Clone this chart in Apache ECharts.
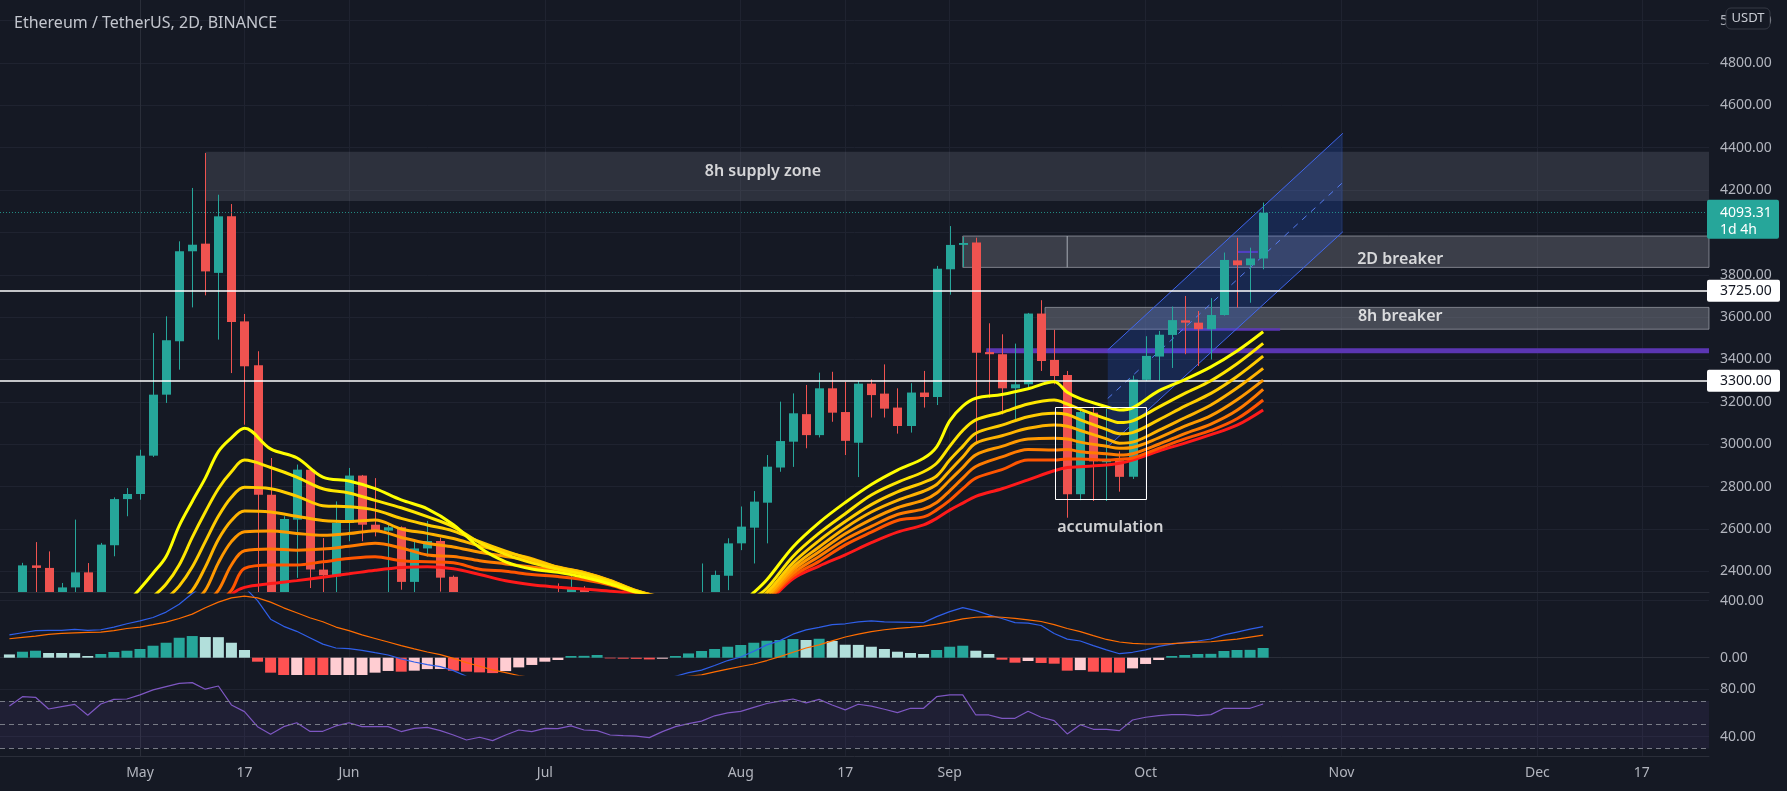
<!DOCTYPE html>
<html><head><meta charset="utf-8">
<script src="https://cdn.jsdelivr.net/npm/echarts/dist/echarts.min.js"></script>
<style>html,body{margin:0;padding:0;background:#151924;}#c{width:1787px;height:791px;}</style>
</head><body><div id="c"></div>
<script>
// ---------------- DATA ----------------
const firstIndex = -10;            // bar index of first candle (0 = 1 May, 2-day bars)
const candles = [ // [open, close, low, high]
[2080,2135,2070,2200],[2140,2428,2120,2440],[2428,2416,2280,2538],[2416,2235,2000,2494],[2235,2324,2160,2345],
[2324,2395,2300,2644],[2395,2215,2120,2439],[2215,2526,2180,2534],[2523,2741,2471,2749],[2741,2765,2660,2793],
[2765,2946,2738,2974],[2946,3234,2940,3525],[3234,3491,3195,3604],[3486,3911,3352,3958],[3911,3942,3646,4210],
[3947,3816,3703,4375],[3809,4076,3494,4178],[4076,3577,3336,4134],[3580,3368,3092,3615],[3373,2762,1900,3439],
[2762,2290,2110,2935],[2290,2647,1730,2660],[2644,2880,2369,2904],[2880,2408,2321,2888],[2408,2381,2170,2557],
[2376,2628,2280,2730],[2628,2852,2542,2888],[2852,2620,2542,2855],[2620,2592,2565,2840],[2592,2608,2290,2620],
[2608,2350,2313,2612],[2350,2508,2290,2551],[2508,2543,2469,2638],[2543,2370,2304,2558],[2374,2180,2100,2380],
[2180,1890,1860,2280],[1890,1970,1700,2050],[1970,1830,1800,2040],[1830,1970,1720,1990],[1970,2160,1960,2200],
[2160,2110,2030,2280],[2110,2225,2050,2240],[2225,2200,2160,2343],[2200,2319,2180,2409],[2319,2150,2100,2330],
[2150,2140,2050,2200],[2140,1995,1950,2200],[1995,1915,1880,2030],[1915,1900,1850,1960],[1900,1815,1790,1990],
[1815,1995,1720,2040],[1995,2125,1960,2140],[2125,2190,2100,2230],[2190,2300,2150,2437],[2300,2383,2220,2403],
[2379,2532,2311,2556],[2532,2611,2500,2706],[2606,2729,2437,2779],[2724,2894,2532,2949],[2890,3015,2870,3201],
[3012,3146,2893,3240],[3142,3043,2981,3280],[3043,3264,3032,3338],[3264,3149,3106,3342],[3152,3016,2949,3295],
[3007,3286,2845,3298],[3286,3232,3126,3306],[3239,3168,3126,3377],[3173,3086,3050,3264],[3086,3244,3055,3288],
[3244,3223,3173,3346],[3223,3829,3185,3842],[3826,3941,3706,4030],[3941,3950,3837,3979],[3952,3432,3000,3975],
[3435,3425,3220,3571],[3425,3264,3141,3519],[3264,3283,3115,3475],[3283,3617,3267,3620],[3617,3393,3346,3680],
[3398,3322,3283,3540],[3327,2764,2653,3346],[2764,3152,2736,3173],[3149,2919,2732,3177],[2915,2926,2732,3167],
[2924,2846,2776,2966],[2846,3306,2836,3324],[3304,3417,3298,3510],[3414,3517,3299,3535],[3516,3586,3360,3650],
[3585,3574,3425,3700],[3574,3543,3369,3629],[3543,3610,3400,3690],[3610,3870,3607,3905],[3868,3845,3645,3975],
[3845,3877,3668,3928],[3877,4093.31,3826,4141]
];

// moving-average ribbon at these bar indices
const ribbonX = [-2,0,1,2,3,4,5,6,7,8,10,12,14,16,18,20,22,24,26,28,30,32,34,36,38,40,42,44,
                 46,47,48,50,52,54,56,58,60,61,62,63,64,66,68,70,71,72,74,75,76,78,80,82,84,86];
const ema1 = [2180,2318,2391,2470,2615,2730,2840,2965,3030,3075,2978,2936,2845,2826,2790,2737,2695,2620,2512,2445,2411,2395,2372,2340,2300,2262,2235,2245,
              2250,2300,2360,2515,2630,2725,2810,2878,2934,2988,3110,3180,3217,3235,3262,3295,3245,3215,3177,3162,3172,3252,3305,3365,3440,3531];
const ema2 = [2120,2230,2280,2340,2430,2560,2680,2790,2870,2925,2890,2845,2790,2770,2735,2700,2658,2610,2535,2480,2440,2410,2385,2350,2305,2270,2245,2245,
              2240,2275,2320,2470,2580,2672,2760,2820,2870,2910,2990,3065,3115,3150,3190,3209,3190,3165,3120,3102,3110,3175,3240,3300,3380,3476];
const ema3 = [2080,2180,2220,2270,2330,2420,2540,2660,2750,2797,2790,2755,2710,2705,2689,2650,2619,2590,2540,2495,2455,2418,2392,2355,2308,2275,2252,2248,
              2235,2262,2300,2440,2545,2635,2715,2775,2820,2850,2925,2990,3052,3090,3130,3146,3140,3115,3070,3049,3055,3115,3180,3240,3320,3416];
const ema4 = [2050,2140,2170,2210,2260,2310,2420,2550,2640,2685,2680,2660,2640,2635,2642,2600,2579,2555,2520,2490,2460,2420,2395,2357,2308,2278,2256,2250,
              2230,2255,2285,2420,2515,2605,2680,2735,2778,2810,2875,2940,3005,3040,3075,3091,3085,3065,3025,3005,3010,3065,3125,3185,3265,3358];
const ema5 = [2020,2100,2130,2160,2200,2250,2310,2440,2540,2587,2590,2579,2570,2578,2592,2560,2532,2515,2490,2470,2450,2418,2393,2355,2306,2278,2258,2250,
              2225,2245,2275,2405,2492,2577,2645,2700,2736,2770,2830,2890,2950,2990,3025,3028,3025,3010,2990,2981,2985,3030,3085,3135,3210,3303];
const ema6 = [2000,2070,2100,2120,2160,2200,2250,2310,2430,2497,2505,2500,2505,2518,2532,2510,2477,2470,2450,2435,2420,2405,2385,2350,2302,2276,2258,2248,
              2220,2238,2265,2390,2470,2550,2612,2668,2695,2725,2780,2840,2895,2940,2975,2973,2975,2965,2955,2949,2955,3000,3050,3095,3160,3259];
const ema7 = [1980,2050,2070,2090,2120,2160,2200,2250,2310,2414,2430,2430,2445,2460,2469,2450,2445,2440,2410,2400,2385,2375,2360,2335,2298,2272,2256,2246,
              2210,2230,2260,2377,2447,2525,2585,2640,2657,2690,2735,2790,2840,2880,2925,2925,2930,2930,2925,2929,2935,2980,3025,3065,3120,3209];
const ema8 = [1960,2020,2040,2060,2090,2120,2160,2210,2290,2324,2342,2356,2372,2388,2405,2418,2422,2412,2385,2355,2336,2325,2316,2306,2292,2270,2252,2240,
              2200,2215,2250,2365,2425,2478,2535,2585,2619,2650,2689,2722,2754,2790,2832,2875,2890,2894,2902,2910,2925,2968,3005,3045,3090,3162];

const macdHist = [23,42,49,33,33,32,12,26,40,49,61,84,105,140,152,145,144,105,54,-28,-105,-135,-128,-150,-165,-150,-140,-130,-105,-93,
  -98,-91,-80,-79,-91,-98,-103,-108,-94,-68,-51,-28,-16,12,13,19,-5,-7,-8,-12,-7,12,30,47,61,77,89,105,119,124,
  131,124,133,117,91,90,77,61,42,33,26,54,77,84,49,26,-14,-35,-23,-37,-42,-91,-87,-98,-103,-105,-75,-44,-16,12,
  19,26,27,47,54,55,68];
const macdLine = [160,175,190,192,192,199,192,196,215,238,258,282,320,375,451,510,545,535,495,400,270,220,185,140,95,68,63,52,35,19,
  -8,-30,-48,-63,-91,-130,-160,-180,-190,-190,-185,-180,-175,-170,-165,-165,-170,-175,-175,-170,-155,-130,-105,-87,-55,-20,5,45,90,120,
  165,195,213,232,238,252,258,252,250,248,246,288,323,351,330,300,275,246,243,226,170,130,117,85,55,28,38,55,80,95,
  107,117,131,160,180,200,218];
const macdSignal = [133,143,152,164,170,174,177,180,190,205,215,232,250,275,306,350,390,420,432,420,390,350,315,280,252,215,190,160,135,110,
  85,62,40,22,-5,-35,-60,-85,-105,-125,-140,-150,-158,-162,-165,-167,-168,-168,-166,-160,-152,-140,-130,-120,-100,-80,-62,-44,-20,8,
  38,68,90,118,145,165,183,196,206,213,222,235,253,272,284,288,284,276,265,254,232,205,183,155,128,110,100,96,96,99,
  104,109,112,122,130,145,159];
const rsiValues = [65.7,73.5,73.0,63.2,65.2,67.1,58.0,67.4,71.3,71.6,75.0,79.2,82.0,84.7,85.3,79.8,82.5,66.6,61.0,48.4,
  42.0,48.4,51.7,44.5,44.5,49.0,51.7,48.4,48.4,48.4,44.3,47.0,47.8,45.1,41.4,37.2,39.5,36.7,41.4,45.6,
  44.3,47.0,46.7,49.0,45.6,45.1,41.4,40.8,40.5,39.2,44.2,48.4,51.0,53.0,57.5,60.0,61.2,64.5,67.8,69.8,
  71.6,68.3,71.3,66.6,62.5,67.2,65.6,63.0,60.2,63.8,63.8,73.5,75.0,75.0,58.2,58.2,55.4,55.4,61.3,56.3,
  53.4,42.3,50.0,46.2,46.2,45.1,54.0,56.3,57.6,58.5,58.5,57.6,58.5,63.8,63.8,63.8,67.4];

const timeTicks  = [0, 8, 16, 31, 46, 54, 62, 77, 92, 107, 115];
const timeLabels = ['May','17','Jun','Jul','Aug','17','Sep','Oct','Nov','Dec','17'];
const priceTicks = [2400,2600,2800,3000,3200,3400,3600,3800,4000,4200,4400,4600,4800,5000];
const macdTicks = [0, 400];
const rsiTicks = [40, 80];
const rsiBands = [30, 50, 70];

const levelLines = [3725, 3300];
const lastPrice = 4093.31;
const countdown = '1d 4h';

// zones: [fromBar, toBar, lowPrice, highPrice, kind]
const X_MIN = -10.72, X_MAX = 120.14;
const zones = [
  [5, X_MAX, 4148, 4381, 0],
  [63, 71, 3835, 3983, 1],
  [71, X_MAX, 3835, 3983, 1],
  [69.3, X_MAX, 3543, 3646, 2],
  [64.8, X_MAX, 3430, 3453, 3],
  [79.6, 87.3, 3536, 3548, 3],
  [84, 85.6, 3903, 3913, 3]
];
const accumulationBox = [70.1, 77.1, 2740, 3174];
const channelX = [74.1, 92.1];
const channelUpper = [3445, 4468];
const channelLower = [2988, 4003];
const channelMid = [3216, 4236];

const annotTexts = ['8h supply zone', '2D breaker', '8h breaker', 'accumulation'];
const annotX = [47.7, 96.5, 96.5, 74.3];
const annotY = [4287, 3873, 3605, 2608];

// ---------------- STYLE ----------------
const BG = '#151924', GRIDC = '#1f2330', TXT = '#b2b5be', SEP = '#2a2e39';
const FONT = '"Noto Sans", "Open Sans", sans-serif';
const UP = '#26a69a', DOWN = '#ef5350';
const ribbonColors = ['#ffff00','#ffe600','#ffcc00','#ffb300','#ff9900','#ff7b00','#ff5500','#ff1a1a'];
const zoneStyles = [
  {fill: 'rgba(120,123,134,0.25)', stroke: null},
  {fill: 'rgba(120,123,134,0.38)', stroke: 'rgba(178,181,190,0.6)'},
  {fill: 'rgba(120,123,134,0.5)', stroke: 'rgba(178,181,190,0.6)'},
  {fill: '#5b36b3', stroke: null}
];

const chart = echarts.init(document.getElementById('c'), null, {renderer: 'canvas'});
const grids = [
  {left: 0, right: 78, top: 0, height: 592},
  {left: 0, right: 78, top: 592, height: 83},
  {left: 0, right: 78, top: 675, height: 81}
];
function xAx(k) {
  return {
    type: 'value', gridIndex: k, min: X_MIN, max: X_MAX,
    axisLine: {show: true, lineStyle: {color: SEP, width: 1}},
    axisTick: {show: false, customValues: timeTicks},
    axisLabel: {show: k === 2, customValues: timeTicks, color: TXT, fontSize: 14, fontFamily: FONT, margin: 10,
      formatter: v => { const j = timeTicks.indexOf(v); return j >= 0 ? timeLabels[j] : ''; }},
    splitLine: {show: true, lineStyle: {color: GRIDC, width: 1}}
  };
}
function yAx(k, min, max, ticks) {
  return {
    type: 'value', gridIndex: k, position: 'right', min: min, max: max,
    axisLine: {show: true, lineStyle: {color: SEP, width: 1}},
    axisTick: {show: false, customValues: ticks},
    axisLabel: {customValues: ticks, color: TXT, fontSize: 14, fontFamily: FONT, margin: 11, formatter: v => v.toFixed(2)},
    splitLine: {show: true, lineStyle: {color: GRIDC, width: 1}}
  };
}
function histColor(k) {
  const h = macdHist[k], prev = k > 0 ? macdHist[k - 1] : h;
  if (h >= 0) return prev < h ? '#26a69a' : '#b2dfdb';
  return prev < h ? '#ffcdd2' : '#ff5252';
}
const ribbons = [ema1, ema2, ema3, ema4, ema5, ema6, ema7, ema8];
const ribbonSeries = ribbons.map((arr, j) => ({
  type: 'line', xAxisIndex: 0, yAxisIndex: 0, z: 5 + (7 - j) * 0.01,
  data: arr.map((v, n) => [ribbonX[n], v]), showSymbol: false, smooth: 0.35, clip: true,
  lineStyle: {color: ribbonColors[j], width: 3}, silent: true
})).reverse();

// candles drawn through the cartesian scale and clipped to the price pane
function renderCandle(params, api) {
  const cs = params.coordSys;
  const x = api.value(0), o = api.value(1), c = api.value(2), l = api.value(3), h = api.value(4);
  const po = api.coord([x, o]), pc = api.coord([x, c]), pl = api.coord([x, l]), ph = api.coord([x, h]);
  const color = c >= o ? UP : DOWN;
  const top = cs.y, bot = cs.y + cs.height;
  const cx = Math.round(po[0]) + 0.5;
  const children = [];
  const wy1 = Math.max(ph[1], top), wy2 = Math.min(pl[1], bot);
  if (wy2 > wy1) children.push({type: 'line', shape: {x1: cx, y1: wy1, x2: cx, y2: wy2}, style: {stroke: color, lineWidth: 1}});
  const yTop = Math.min(po[1], pc[1]);
  const hgt = Math.max(1, Math.abs(po[1] - pc[1]));
  const r = echarts.graphic.clipRectByRect({x: Math.round(po[0]) - 4, y: yTop, width: 9, height: hgt},
    {x: cs.x, y: cs.y, width: cs.width, height: cs.height});
  if (r) children.push({type: 'rect', shape: r, style: {fill: color}});
  return {type: 'group', children: children};
}

const option = {
  backgroundColor: BG, animation: false,
  title: {text: 'Ethereum / TetherUS, 2D, BINANCE', left: 9, top: 10,
    textStyle: {color: '#c3c6ce', fontSize: 16, fontWeight: 'normal', fontFamily: FONT}},
  grid: grids,
  xAxis: [xAx(0), xAx(1), xAx(2)],
  yAxis: [yAx(0, 2302.3, 5097.4, priceTicks), yAx(1, -121.4, 461, macdTicks), yAx(2, 23.8, 91.7, rsiTicks)],
  series: [
    { type: 'custom', xAxisIndex: 0, yAxisIndex: 0, z: 1, silent: true,
      data: zones, encode: {x: [0, 1], y: [2, 3]},
      renderItem: (params, api) => {
        const a = api.coord([api.value(0), api.value(3)]), b = api.coord([api.value(1), api.value(2)]);
        const cs = params.coordSys;
        const r = echarts.graphic.clipRectByRect({x: a[0], y: a[1], width: b[0] - a[0], height: b[1] - a[1]},
          {x: cs.x, y: cs.y, width: cs.width, height: cs.height});
        if (!r) return;
        const st = zoneStyles[api.value(4)];
        return {type: 'rect', shape: r,
          style: {fill: st.fill || 'none', stroke: st.stroke || 'none', lineWidth: 1}};
      }
    },
    { type: 'custom', xAxisIndex: 0, yAxisIndex: 0, z: 2, silent: true,
      data: [[channelX[0], channelLower[0]]],
      renderItem: (params, api) => {
        const ul = api.coord([channelX[0], channelUpper[0]]), ur = api.coord([channelX[1], channelUpper[1]]);
        const ll = api.coord([channelX[0], channelLower[0]]), lr = api.coord([channelX[1], channelLower[1]]);
        const ml = api.coord([channelX[0], channelMid[0]]), mr = api.coord([channelX[1], channelMid[1]]);
        const stroke = 'rgba(64,104,245,0.95)';
        return {type: 'group', children: [
          {type: 'polygon', shape: {points: [ul, ur, lr, ll]}, style: {fill: 'rgba(41,98,255,0.2)'}},
          {type: 'line', shape: {x1: ul[0], y1: ul[1], x2: ur[0], y2: ur[1]}, style: {stroke: stroke, lineWidth: 1}},
          {type: 'line', shape: {x1: ll[0], y1: ll[1], x2: lr[0], y2: lr[1]}, style: {stroke: stroke, lineWidth: 1}},
          {type: 'line', shape: {x1: ml[0], y1: ml[1], x2: mr[0], y2: mr[1]}, style: {stroke: 'rgba(90,130,255,0.9)', lineWidth: 1, lineDash: [6, 6]}}
        ]};
      }
    },
    { type: 'custom', xAxisIndex: 0, yAxisIndex: 0, z: 3, silent: true,
      data: candles.map((c, k) => [firstIndex + k, c[0], c[1], c[2], c[3]]),
      encode: {x: 0, y: [1, 2, 3, 4]},
      renderItem: renderCandle
    },
    { type: 'custom', xAxisIndex: 0, yAxisIndex: 0, z: 7, silent: true,
      data: [accumulationBox], encode: {x: [0, 1], y: [2, 3]},
      renderItem: (params, api) => {
        const a = api.coord([api.value(0), api.value(3)]), b = api.coord([api.value(1), api.value(2)]);
        return {type: 'rect', shape: {x: Math.round(a[0]) + 0.5, y: Math.round(a[1]) + 0.5, width: Math.round(b[0] - a[0]), height: Math.round(b[1] - a[1])},
          style: {fill: 'none', stroke: '#ffffff', lineWidth: 1}};
      }
    },
    ...ribbonSeries,
    { type: 'line', xAxisIndex: 0, yAxisIndex: 0, z: 8, data: [], silent: true,
      markLine: {silent: true, symbol: 'none', animation: false, label: {show: false},
        data: [
          {yAxis: levelLines[0], lineStyle: {color: '#ffffff', width: 1.5, type: 'solid'}},
          {yAxis: levelLines[1], lineStyle: {color: '#ffffff', width: 1.5, type: 'solid'}},
          {yAxis: lastPrice, lineStyle: {color: 'rgba(38,166,154,0.8)', width: 1, type: [1, 2]}}
        ]}
    },
    { type: 'scatter', xAxisIndex: 0, yAxisIndex: 0, z: 9, symbolSize: 0, silent: true,
      data: annotTexts.map((t, k) => ({name: t, value: [annotX[k], annotY[k]]})),
      label: {show: true, position: 'inside', formatter: '{b}', color: '#ffffff', fontSize: 16, fontWeight: 600, fontFamily: FONT}
    },
    { type: 'bar', xAxisIndex: 1, yAxisIndex: 1, barWidth: 11, z: 2, silent: true,
      data: macdHist.map((h, k) => ({value: [firstIndex + k, h], itemStyle: {color: histColor(k)}}))
    },
    { type: 'line', xAxisIndex: 1, yAxisIndex: 1, z: 4, showSymbol: false, silent: true,
      data: macdLine.map((v, k) => [firstIndex + k, v]), lineStyle: {color: '#2f5fe8', width: 1.2}},
    { type: 'line', xAxisIndex: 1, yAxisIndex: 1, z: 4, showSymbol: false, silent: true,
      data: macdSignal.map((v, k) => [firstIndex + k, v]), lineStyle: {color: '#ff6d00', width: 1.2}},
    { type: 'line', xAxisIndex: 2, yAxisIndex: 2, z: 4, showSymbol: false, silent: true,
      data: rsiValues.map((v, k) => [firstIndex + k, v]), lineStyle: {color: '#7e57c2', width: 1.2},
      markArea: {silent: true, itemStyle: {color: 'rgba(126,87,194,0.1)'}, data: [[{yAxis: rsiBands[0]}, {yAxis: rsiBands[2]}]]},
      markLine: {silent: true, symbol: 'none', label: {show: false}, animation: false,
        lineStyle: {color: '#787b86', type: [5, 4], width: 1},
        data: rsiBands.map(v => ({yAxis: v}))}
    }
  ]
};
chart.setOption(option);

// price tags on the right scale (positions from the library's scale)
const axisX = chart.convertToPixel({xAxisIndex: 0}, X_MAX);
const els = [];
levelLines.forEach(p => {
  const y = chart.convertToPixel({yAxisIndex: 0}, p);
  els.push({type: 'rect', z: 100, shape: {x: axisX - 2, y: y - 11, width: 73, height: 22, r: 2}, style: {fill: '#ffffff'}});
  els.push({type: 'text', z: 101, x: axisX + 11, y: y, style: {text: p.toFixed(2), fill: '#131722', font: '14px ' + FONT, verticalAlign: 'middle'}});
});
const yl = chart.convertToPixel({yAxisIndex: 0}, lastPrice);
els.push({type: 'rect', z: 100, shape: {x: axisX - 2, y: yl - 13, width: 72, height: 39, r: 2}, style: {fill: '#26a69a'}});
els.push({type: 'text', z: 101, x: axisX + 11, y: yl, style: {text: lastPrice.toFixed(2), fill: '#ffffff', font: '14px ' + FONT, verticalAlign: 'middle'}});
els.push({type: 'text', z: 101, x: axisX + 11, y: yl + 17, style: {text: countdown, fill: '#ffffff', font: '14px ' + FONT, verticalAlign: 'middle'}});
els.push({type: 'rect', z: 100, shape: {x: axisX + 17, y: 8, width: 44, height: 21, r: 5}, style: {fill: BG, stroke: '#363a45', lineWidth: 1}});
els.push({type: 'text', z: 101, x: axisX + 39, y: 18.5, style: {text: 'USDT', fill: '#c9ccd4', font: '13px ' + FONT, align: 'center', verticalAlign: 'middle'}});
chart.setOption({graphic: {elements: els}});
</script></body></html>
